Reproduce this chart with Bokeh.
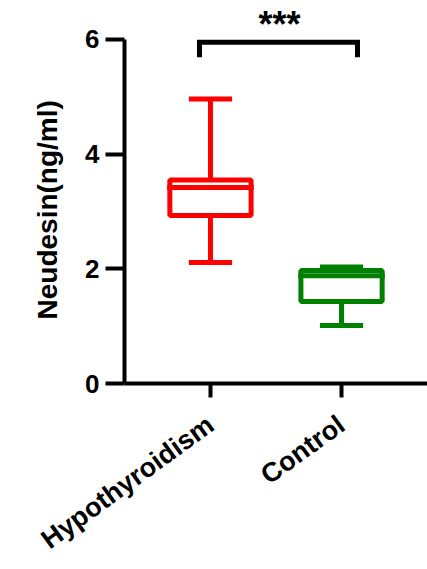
from bokeh.plotting import figure
from bokeh.models import FactorRange, Range1d, ColumnDataSource, FixedTicker, Title
from bokeh.core.properties import value
from bokeh.embed import file_html
from bokeh.resources import INLINE

# ---- data ----
groups = ["Hypothyroidism", "Control"]
colors = ["#ff0000", "#008000"]
upper = [4.96, 2.03]
q3 = [3.55, 1.97]
median = [3.42, 1.88]
q1 = [2.93, 1.43]
lower = [2.11, 1.01]

y_ticks = [0, 2, 4, 6]
y_title = "Neudesin(ng/ml)"
sig_text = "***"
bracket_top = 5.95
bracket_bottom = 5.69
sig_y = 6.27

FONT = "Liberation Sans"

src = ColumnDataSource(dict(g=groups, c=colors, upper=upper, q3=q3,
                            med=median, q1=q1, lower=lower))

p = figure(
    x_range=FactorRange(*groups, range_padding=0.156, range_padding_units="absolute"),
    y_range=Range1d(0, 6.68),
    width=427, height=569,
    output_backend="svg", toolbar_location=None,
    min_border_left=124, min_border_right=0, min_border_top=0, min_border_bottom=185,
)
p.xgrid.visible = False
p.ygrid.visible = False
p.outline_line_color = None
p.background_fill_color = "white"
p.border_fill_color = "white"

# y axis
ya = p.yaxis[0]
ya.ticker = FixedTicker(ticks=y_ticks)
ya.bounds = (0, 6)
ya.axis_line_width = 4
ya.axis_line_color = "black"
ya.major_tick_line_width = 4
ya.major_tick_line_color = "black"
ya.major_tick_out = 19
ya.major_tick_in = 0
ya.minor_tick_line_color = None
ya.major_label_text_font = FONT
ya.major_label_text_font_size = "26px"
ya.major_label_text_font_style = "bold"
ya.major_label_text_color = "black"
ya.major_label_standoff = 6

# y title: starts near the bottom of the frame, shifted up
t = Title(text=y_title, align="left", offset=64,
          text_font=FONT, text_font_size="28px", text_font_style="bold",
          text_color="black")
try:
    t.standoff = 40
except Exception:
    pass
p.add_layout(t, "left")

# x axis
xa = p.xaxis[0]
xa.axis_line_width = 4
xa.axis_line_color = "black"
xa.major_tick_line_width = 4
xa.major_tick_line_color = "black"
xa.major_tick_out = 14
xa.major_tick_in = 0
xa.minor_tick_line_color = None
xa.major_label_orientation = 0.63
xa.major_label_text_font = FONT
xa.major_label_text_font_size = "27px"
xa.major_label_text_font_style = "bold"
xa.major_label_text_color = "black"
xa.major_label_standoff = 24

# whiskers
p.segment(x0="g", y0="q3", x1="g", y1="upper", line_color="c", line_width=5, source=src)
p.segment(x0="g", y0="q1", x1="g", y1="lower", line_color="c", line_width=5, source=src)
# caps
p.rect(x="g", y="upper", width=0.33, height=5, height_units="screen",
       fill_color="c", line_color=None, source=src)
p.rect(x="g", y="lower", width=0.33, height=5, height_units="screen",
       fill_color="c", line_color=None, source=src)
# boxes
p.vbar(x="g", bottom="q1", top="q3", width=0.62, fill_color=None,
       line_color="c", line_width=5, source=src)
# medians
p.rect(x="g", y="med", width=0.66, height=5, height_units="screen",
       fill_color="c", line_color=None, source=src)

# significance bracket
bx = [(groups[0], -0.084), (groups[0], -0.084), (groups[1], 0.122), (groups[1], 0.122)]
by = [bracket_bottom, bracket_top, bracket_top, bracket_bottom]
p.line(x=bx, y=by, line_color="black", line_width=5, line_join="miter")
p.text(x=[(groups[0], 0.527)], y=[sig_y], text=[sig_text],
       text_align="center", text_baseline="middle",
       text_font=value(FONT), text_font_size="36px", text_font_style="bold",
       text_color="black")

open("out.html", "w").write(file_html(p, INLINE))
